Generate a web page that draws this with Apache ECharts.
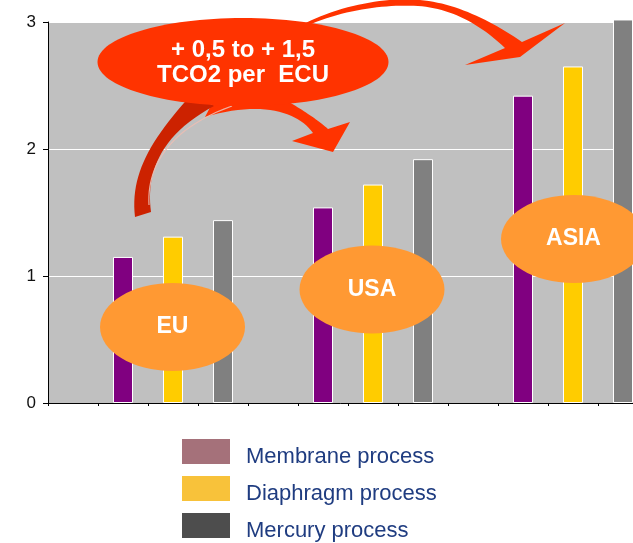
<!DOCTYPE html>
<html>
<head>
<meta charset="utf-8">
<title>CO2 per ECU by chlor-alkali process</title>
<script src="https://cdn.jsdelivr.net/npm/echarts@6/dist/echarts.min.js"></script>
<style>
  html, body { margin: 0; padding: 0; background: #ffffff; }
  #chart { width: 633px; height: 543px; }
</style>
</head>
<body>
<div id="chart"></div>
<script>
// Regions and the three production processes, values in tCO2
const regions = ['EU', 'USA', 'ASIA'];
const processes = ['Membrane process', 'Diaphragm process', 'Mercury process'];
const membrane = [1.15, 1.54, 2.42];
const diaphragm = [1.31, 1.72, 2.65];
const mercury = [1.44, 1.92, 3.02];
const yTicks = [0, 1, 2, 3];

// Bar and legend colours per process
const barColors = ['#800080', '#FFCC00', '#808080'];
const legendColors = ['#A5717A', '#F8C23A', '#4D4D4D'];

// Each region takes one empty slot followed by one slot per process
const categories = [];
const slotSeries = [[], [], []];
const processValues = [membrane, diaphragm, mercury];
regions.forEach((r, ri) => {
  categories.push(r + ' gap');
  slotSeries.forEach(s => s.push(null));
  processes.forEach((p, pi) => {
    categories.push(r + ' ' + p);
    slotSeries.forEach((s, si) => s.push(si === pi ? processValues[pi][ri] : null));
  });
});

const FONT = "'Liberation Sans', Arial, sans-serif";

// Turns a simple "M x,y L x,y C x,y x,y x,y Z" outline into a point list
function outline(d) {
  const tok = d.replace(/([MLCZ])/gi, ' $1 ').replace(/,/g, ' ').trim().split(/\s+/);
  const pts = [];
  let i = 0, cur = [0, 0], cmd = 'M';
  while (i < tok.length) {
    if (/^[MLCZ]$/i.test(tok[i])) { cmd = tok[i].toUpperCase(); i++; continue; }
    if (cmd === 'M' || cmd === 'L') {
      cur = [+tok[i], +tok[i + 1]]; pts.push(cur.slice()); i += 2;
    } else if (cmd === 'C') {
      const p1 = [+tok[i], +tok[i + 1]], p2 = [+tok[i + 2], +tok[i + 3]], p3 = [+tok[i + 4], +tok[i + 5]];
      const p0 = cur;
      for (let k = 1; k <= 24; k++) {
        const t = k / 24, u = 1 - t;
        pts.push([
          u * u * u * p0[0] + 3 * u * u * t * p1[0] + 3 * u * t * t * p2[0] + t * t * t * p3[0],
          u * u * u * p0[1] + 3 * u * u * t * p1[1] + 3 * u * t * t * p2[1] + t * t * t * p3[1]
        ]);
      }
      cur = p3; i += 6;
    } else { i++; }
  }
  return pts;
}

const chart = echarts.init(document.getElementById('chart'), null, { renderer: 'canvas' });

const series = processes.map((name, i) => ({
  name: name,
  type: 'bar',
  data: slotSeries[i],
  barWidth: 20,
  barGap: '-100%',
  clip: false,
  itemStyle: { color: barColors[i], borderColor: '#ffffff', borderWidth: 1 },
  emphasis: { disabled: true }
}));

// Region badges over the bars
function badge(cx, cy, text) {
  return [
    { type: 'ellipse', z: 100, shape: { cx: cx, cy: cy, rx: 72.5, ry: 44 }, style: { fill: '#FF9933' } },
    { type: 'text', z: 101, x: cx, y: cy, style: { text: text, fill: '#ffffff', font: 'bold 23px ' + FONT, align: 'center', verticalAlign: 'middle' } }
  ];
}

const graphics = [
  // arrow towards ASIA, running above the plot
  { type: 'polygon', z: 90, shape: { points: outline('M300,26 C340,4 390,-3 420,0 C455,3 490,20 522,42 L565,23 L520,57 L465,65 L505,48 C480,24 450,8 418,6 C385,4 340,10 302,28 Z') }, style: { fill: '#FF3300' } },
  // ribbon arrow from EU to USA: bright part with head
  { type: 'polygon', z: 90, shape: { points: outline('M215,98 L282,98 C300,108 318,120 328,129 L350,122 L333,152 L292,141 L313,133 C298,112 262,100 205,117 Z') }, style: { fill: '#FF3300' } },
  // ribbon arrow: darker twisted tail
  { type: 'polygon', z: 91, shape: { points: outline('M192,94 C150,140 130,175 135,217 L151,212 C146,175 158,136 214,106 Z') }, style: { fill: '#CC2200' } },
  { type: 'polyline', z: 92, shape: { points: outline('M149,205 C147,170 165,130 232,106') }, style: { fill: null, stroke: 'rgba(235,190,180,0.9)', lineWidth: 1.2 } },
  // callout
  { type: 'ellipse', z: 100, shape: { cx: 243, cy: 62, rx: 145.5, ry: 44 }, style: { fill: '#FF3300' } },
  { type: 'text', z: 101, x: 243, y: 50, style: { text: '+ 0,5 to + 1,5', fill: '#ffffff', font: 'bold 24px ' + FONT, align: 'center', verticalAlign: 'middle' } },
  { type: 'text', z: 101, x: 243, y: 75, style: { text: 'TCO2 per  ECU', fill: '#ffffff', font: 'bold 24px ' + FONT, align: 'center', verticalAlign: 'middle' } }
].concat(badge(172.5, 327, regions[0]), badge(372, 289.5, regions[1]), badge(573.5, 239, regions[2]));

// One legend block per process, stacked
const legendTops = [439, 476, 513];
const legends = processes.map((p, i) => ({
  orient: 'vertical',
  left: 182, top: legendTops[i],
  padding: 0,
  itemWidth: 48, itemHeight: 25,
  icon: 'rect',
  selectedMode: false,
  data: [{ name: p, itemStyle: { color: legendColors[i], borderWidth: 0 } }],
  formatter: name => '{t|' + name + '}',
  textStyle: {
    padding: [0, 0, 0, 11],
    rich: {
      t: { fontSize: 22, fontFamily: FONT, color: '#1F3C80', lineHeight: 32, verticalAlign: 'bottom' }
    }
  }
}));

chart.setOption({
  animation: false,
  backgroundColor: '#ffffff',
  grid: {
    left: 48, top: 22, width: 600, bottom: 140,
    outerBoundsMode: 'none',
    show: true, backgroundColor: '#C0C0C0', borderWidth: 0
  },
  legend: legends,
  xAxis: {
    type: 'category',
    data: categories,
    boundaryGap: true,
    axisLine: { show: true, lineStyle: { color: '#000000', width: 1 } },
    axisTick: { show: true, interval: 0, length: 3, lineStyle: { color: '#000000' } },
    axisLabel: { show: false },
    splitLine: { show: false }
  },
  yAxis: {
    type: 'value',
    min: yTicks[0], max: yTicks[yTicks.length - 1], interval: 1,
    axisLine: { show: true, lineStyle: { color: '#000000', width: 1 } },
    axisTick: { show: true, length: 5, lineStyle: { color: '#000000' } },
    axisLabel: { fontSize: 17, fontFamily: FONT, color: '#111111', margin: 12 },
    splitLine: { show: true, lineStyle: { color: '#ffffff', width: 1 } }
  },
  series: series,
  graphic: graphics
});
</script>
</body>
</html>
